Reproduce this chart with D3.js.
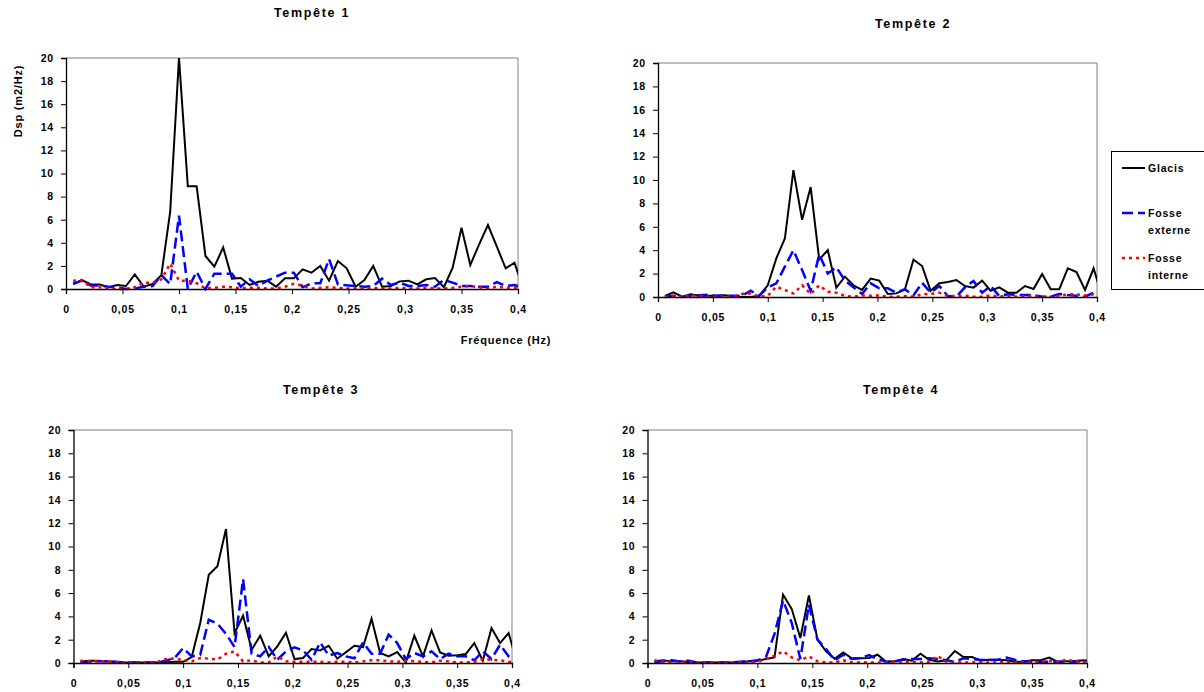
<!DOCTYPE html>
<html>
<head>
<meta charset="utf-8">
<script src="https://cdn.jsdelivr.net/npm/d3@7"></script>
<style>
  body { margin: 0; background: #fff; }
  svg { display: block; font-family: "Liberation Sans", Arial, sans-serif; }
</style>
</head>
<body>
<div id="chart"></div>
<script>
// frequency bins (Hz), shared by the four storms
var freqs = [0.0063, 0.0141, 0.0219, 0.0297, 0.0375, 0.0453, 0.0531, 0.0609, 0.0688, 0.0766,
  0.0844, 0.0922, 0.1000, 0.1078, 0.1156, 0.1234, 0.1313, 0.1391, 0.1469, 0.1547,
  0.1625, 0.1703, 0.1781, 0.1859, 0.1938, 0.2016, 0.2094, 0.2172, 0.2250, 0.2328,
  0.2406, 0.2484, 0.2563, 0.2641, 0.2719, 0.2797, 0.2875, 0.2953, 0.3031, 0.3109,
  0.3188, 0.3266, 0.3344, 0.3422, 0.3500, 0.3578, 0.3656, 0.3734, 0.3813, 0.3891,
  0.3969, 0.4047];

var titles = ["Tempête 1", "Tempête 2", "Tempête 3", "Tempête 4"];
var seriesNames = ["Glacis", "Fosse externe", "Fosse interne"];
var xTicks = [0, 0.05, 0.1, 0.15, 0.2, 0.25, 0.3, 0.35, 0.4];
var yTicks = [0, 2, 4, 6, 8, 10, 12, 14, 16, 18, 20];

// Tempête 1
var glacisT1 = [0.43, 0.78, 0.4, 0.4, 0.15, 0.35, 0.26, 1.27, 0.2, 0.43, 1.2, 6.7, 20, 8.9, 8.9, 2.86, 1.93, 3.6, 0.9, 0.95,
  0.35, 0.63, 0.72, 0.2, 0.92, 0.92, 1.7, 1.41, 2.0, 0.72, 2.42, 1.79, 0.2, 0.78, 2.0, 0.2, 0.26, 0.66, 0.72, 0.4,
  0.84, 0.95, 0.15, 1.84, 5.3, 2.08, 3.87, 5.54, 3.66, 1.79, 2.28, 0];
var externeT1 = [0.45, 0.72, 0.3, 0.3, 0.2, 0.15, 0, 0.05, 0.2, 0.25, 1.2, 0.43, 6.35, 0, 1.5, 0, 1.33, 1.33, 1.33, 0.2,
  0.84, 0.26, 0.72, 1.07, 1.41, 1.41, 0.15, 0.49, 0.49, 2.6, 0.4, 0.32, 0.26, 0.2, 0.26, 0.9, 0.35, 0.55, 0.26, 0.26,
  0.35, 0.2, 0.78, 0.55, 0.26, 0.26, 0.2, 0.2, 0.6, 0.26, 0.35, 0.1];
var interneT1 = [0.72, 0.78, 0.15, 0.15, 0.05, 0, 0, 0.15, 0.55, 0.55, 0.84, 2.2, 0.72, 0.72, 0.5, 0.05, 0.1, 0.2, 0.15, 0.05,
  0.1, 0.1, 0.05, 0.05, 0.2, 0.45, 0.3, 0.05, 0.1, 0.15, 0.1, 0.05, 0.05, 0.05, 0.1, 0.05, 0.05, 0.1, 0.05, 0.05,
  0.1, 0.05, 0.05, 0.1, 0.2, 0.26, 0.15, 0.05, 0.2, 0.1, 0.1, 0.05];

// Tempête 2
var glacisT2 = [0.1, 0.4, 0.03, 0.23, 0.1, 0.1, 0.1, 0.15, 0.05, 0, 0, 0.1, 1.0, 3.3, 5.0, 10.85, 6.6, 9.4, 3.2, 4.0,
  0.8, 1.74, 1.0, 0.6, 1.57, 1.4, 0.26, 0.31, 0.66, 3.2, 2.65, 0.54, 1.17, 1.28, 1.45, 0.94, 0.8, 1.4, 0.54, 0.83,
  0.37, 0.37, 0.94, 0.68, 1.97, 0.66, 0.66, 2.45, 2.14, 0.6, 2.45, 0];
var externeT2 = [0, 0.1, 0, 0.1, 0.15, 0.2, 0.1, 0.1, 0.1, 0.1, 0.54, 0.1, 0.83, 1.17, 2.6, 4.0, 2.3, 0.54, 3.65, 2.0,
  2.54, 1.4, 0.83, 0.26, 1.17, 0.74, 0.74, 0.37, 0.66, 0.14, 1.22, 0.37, 0.94, 0.09, 0.03, 0.83, 1.37, 0.37, 0.94, 0.09,
  0.23, 0.17, 0.17, 0.17, 0.03, 0.03, 0.26, 0.17, 0.11, 0.03, 0.37, 0];
var interneT2 = [0, 0.1, 0, 0.14, 0.1, 0.03, 0.03, 0.03, 0.03, 0.26, 0.3, 0.03, 0.1, 0.88, 0.6, 0.3, 1.0, 0.26, 1.0, 0.45,
  0.37, 0.1, 0.03, 0.14, 0.1, 0.14, 0.03, 0.03, 0.08, 0.03, 0.23, 0.26, 0.37, 0.08, 0.08, 0.12, 0.03, 0.03, 0.14, 0.03,
  0.08, 0.03, 0.08, 0.12, 0.03, 0.03, 0.08, 0.23, 0.23, 0.12, 0.23, 0.05];

// Tempête 3
var glacisT3 = [0.1, 0.2, 0.2, 0.14, 0.1, 0.05, 0.05, 0.05, 0.05, 0.05, 0.05, 0.1, 0.1, 0.5, 3.43, 7.57, 8.3, 11.5, 2.57, 4.06,
  1.14, 2.34, 0.57, 1.43, 2.6, 0.34, 0.43, 1.2, 1.08, 1.48, 0.37, 0.91, 1.48, 1.37, 3.8, 0.86, 0.57, 0.94, 0.05, 2.34,
  0.57, 2.8, 0.91, 0.63, 0.66, 0.77, 1.71, 0.2, 3.0, 1.71, 2.57, 0];
var externeT3 = [0.05, 0.05, 0.14, 0.14, 0.1, 0.05, 0.05, 0.05, 0.05, 0.05, 0.2, 0.43, 1.28, 0.57, 0.71, 3.72, 3.38, 2.5, 1.37, 7.2,
  0.8, 0.57, 1.37, 0.28, 1.0, 1.34, 1.08, 0.28, 1.77, 0.63, 0.86, 0.57, 0.4, 1.77, 0.8, 0.8, 2.43, 1.71, 0.34, 0.86,
  0.57, 1.0, 0.34, 0.8, 0.57, 0.57, 0.23, 1.0, 0.34, 1.57, 0.57, 0.1];
var interneT3 = [0.2, 0.14, 0.14, 0.14, 0.1, 0.05, 0.05, 0.05, 0.05, 0.1, 0.34, 0.4, 0.23, 0.14, 0.43, 0.37, 0.3, 0.8, 1.0, 0.14,
  0.23, 0.05, 0.05, 0.57, 0.14, 0.1, 0.1, 0.1, 0.1, 0.05, 0.1, 0.1, 0.05, 0.14, 0.23, 0.23, 0.14, 0.1, 0.2, 0.14,
  0.1, 0.05, 0.2, 0.14, 0.05, 0.05, 0.1, 0.34, 0.28, 0.23, 0.1, 0.05];

// Tempête 4
var glacisT4 = [0.14, 0.23, 0.14, 0.14, 0.08, 0.05, 0.05, 0.05, 0.05, 0.05, 0.08, 0.14, 0.2, 0.34, 0.48, 5.86, 4.63, 2.14, 5.8, 2.0,
  1.0, 0.37, 0.91, 0.4, 0.4, 0.43, 0.71, 0.1, 0.14, 0.34, 0.2, 0.8, 0.28, 0.14, 0.23, 1.03, 0.51, 0.51, 0.23, 0.28,
  0.28, 0.23, 0.1, 0.1, 0.23, 0.23, 0.46, 0.1, 0.14, 0.17, 0.23, 0.1];
var externeT4 = [0.08, 0.14, 0.23, 0.14, 0.2, 0.05, 0.05, 0.05, 0.05, 0.05, 0.1, 0.14, 0.23, 0.51, 2.5, 5.37, 3.43, 0.34, 5.0, 2.0,
  1.2, 0.23, 0.71, 0.34, 0.4, 0.68, 0.34, 0.1, 0.14, 0.28, 0.34, 0.34, 0.4, 0.34, 0.23, 0.1, 0.4, 0.34, 0.26, 0.26,
  0.28, 0.46, 0.28, 0.14, 0.1, 0.1, 0.1, 0.1, 0.1, 0.1, 0.23, 0.1];
var interneT4 = [0.23, 0.1, 0.05, 0.1, 0.1, 0.05, 0.05, 0.05, 0.05, 0.05, 0.05, 0.05, 0.1, 0.34, 0.63, 1.0, 0.48, 0.23, 0.57, 0.14,
  0.05, 0.05, 0.23, 0.05, 0.05, 0.05, 0.05, 0.05, 0.1, 0.05, 0.1, 0.05, 0.1, 0.6, 0.1, 0.05, 0.05, 0.05, 0.1, 0.05,
  0.05, 0.1, 0.05, 0.05, 0.1, 0.1, 0.2, 0.05, 0.3, 0.1, 0.1, 0.05];

var storms = [
  [glacisT1, externeT1, interneT1],
  [glacisT2, externeT2, interneT2],
  [glacisT3, externeT3, interneT3],
  [glacisT4, externeT4, interneT4]
];

// layout of each panel (plot rectangle + title position)
var panels = [
  { left: 66, right: 518, top: 58, bottom: 289, titleX: 312, titleY: 17 },
  { left: 658, right: 1097, top: 63, bottom: 297, titleX: 913, titleY: 28 },
  { left: 73.5, right: 512, top: 430, bottom: 663, titleX: 321, titleY: 394 },
  { left: 647.5, right: 1087, top: 430, bottom: 663, titleX: 901, titleY: 394 }
];

var styles = [
  { color: "#000000", width: 2, dash: null },
  { color: "#0000ff", width: 2.5, dash: "11,5" },
  { color: "#ff0000", width: 2.5, dash: "3,4" }
];

var width = 1204, height = 692;
var fmt = function(v) { return String(v).replace(".", ","); };

var svg = d3.select("#chart").append("svg")
    .attr("width", width)
    .attr("height", height);

panels.forEach(function(p, i) {
  var x = d3.scaleLinear().domain([0, 0.4]).range([p.left, p.right]);
  var y = d3.scaleLinear().domain([0, 20]).range([p.bottom, p.top]);
  var g = svg.append("g");

  svg.append("clipPath").attr("id", "clip" + i)
    .append("rect")
      .attr("x", p.left).attr("y", p.top - 2)
      .attr("width", p.right - p.left).attr("height", p.bottom - p.top + 4);

  // gray frame (top and right)
  g.append("path")
    .attr("d", "M" + p.left + "," + p.top + "H" + p.right + "V" + p.bottom)
    .attr("fill", "none")
    .attr("stroke", "#808080")
    .attr("stroke-width", 1);

  var line = d3.line()
    .x(function(d, k) { return x(freqs[k]); })
    .y(function(d) { return y(d); });

  storms[i].forEach(function(vals, s) {
    g.append("path")
      .datum(vals)
      .attr("clip-path", "url(#clip" + i + ")")
      .attr("fill", "none")
      .attr("stroke", styles[s].color)
      .attr("stroke-width", styles[s].width)
      .attr("stroke-dasharray", styles[s].dash)
      .attr("stroke-linejoin", "miter")
      .attr("d", line);
  });

  var xAxis = g.append("g")
    .attr("transform", "translate(0," + p.bottom + ")")
    .call(d3.axisBottom(x).tickValues(xTicks).tickSize(5).tickPadding(12).tickFormat(fmt));
  var yAxis = g.append("g")
    .attr("transform", "translate(" + p.left + ",0)")
    .call(d3.axisLeft(y).tickValues(yTicks).tickSize(5).tickPadding(7));

  [xAxis, yAxis].forEach(function(a) {
    a.select(".domain").attr("stroke", "#000").attr("stroke-width", 1.3);
    a.selectAll(".tick line").attr("stroke", "#000");
    a.selectAll("text")
      .attr("fill", "#000")
      .style("font-size", "10.5px")
      .style("font-weight", "bold")
      .style("letter-spacing", "0.8px");
  });

  svg.append("text")
    .attr("x", p.titleX)
    .attr("y", p.titleY)
    .attr("text-anchor", "middle")
    .style("font-size", "12.5px")
    .style("font-weight", "bold")
    .style("letter-spacing", "1.7px")
    .text(titles[i]);
});

// axis titles (first panel only)
svg.append("text")
  .attr("transform", "translate(22,101) rotate(-90)")
  .attr("text-anchor", "middle")
  .style("font-size", "11px")
  .style("font-weight", "bold")
  .style("letter-spacing", "0.8px")
  .text("Dsp (m2/Hz)");

svg.append("text")
  .attr("x", 506)
  .attr("y", 344)
  .attr("text-anchor", "middle")
  .style("font-size", "11px")
  .style("font-weight", "bold")
  .style("letter-spacing", "0.8px")
  .text("Fréquence (Hz)");

// legend
var legend = svg.append("g");
legend.append("rect")
  .attr("x", 1111.5).attr("y", 151.5)
  .attr("width", 110).attr("height", 138)
  .attr("fill", "#fff")
  .attr("stroke", "#000")
  .attr("stroke-width", 1);

var legendRows = [
  { y: 168, lines: ["Glacis"] },
  { y: 213, lines: ["Fosse", "externe"] },
  { y: 258, lines: ["Fosse", "interne"] }
];

legendRows.forEach(function(r, s) {
  legend.append("line")
    .attr("x1", 1122).attr("x2", 1145)
    .attr("y1", r.y).attr("y2", r.y)
    .attr("stroke", styles[s].color)
    .attr("stroke-width", styles[s].width)
    .attr("stroke-dasharray", styles[s].dash);
  r.lines.forEach(function(t, k) {
    legend.append("text")
      .attr("x", 1148)
      .attr("y", r.y + 4 + k * 17)
      .style("font-size", "10.5px")
      .style("font-weight", "bold")
      .style("letter-spacing", "0.8px")
      .text(t);
  });
});
</script>
</body>
</html>
